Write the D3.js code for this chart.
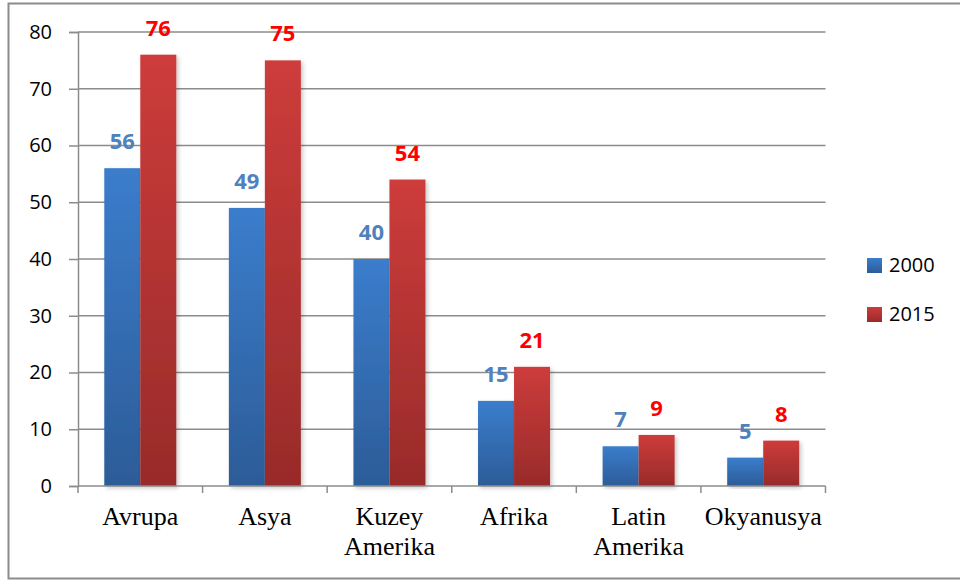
<!DOCTYPE html>
<html>
<head>
<meta charset="utf-8">
<script src="https://cdn.jsdelivr.net/npm/d3@7"></script>
<style>
  body { margin: 0; background: #fff; }
  svg { display: block; }
</style>
</head>
<body>
<div id="chart"></div>
<script>
var width = 960;
var height = 581;

// data
var regions = [["Avrupa"], ["Asya"], ["Kuzey", "Amerika"], ["Afrika"], ["Latin", "Amerika"], ["Okyanusya"]];
var series = ["2000", "2015"];
var values2000 = [56, 49, 40, 15, 7, 5];
var values2015 = [76, 75, 54, 21, 9, 8];
var yTicks = [0, 10, 20, 30, 40, 50, 60, 70, 80];

var margin = {left: 78, right: 135, top: 32, bottom: 95};

var svg = d3.select("#chart")
  .append("svg")
  .attr("width", width)
  .attr("height", height);

var defs = svg.append("defs");

function addGradient(id, top, bottom) {
  var g = defs.append("linearGradient")
    .attr("id", id)
    .attr("x1", 0).attr("y1", 0)
    .attr("x2", 0).attr("y2", 1);
  g.append("stop").attr("offset", "0%").attr("stop-color", top);
  g.append("stop").attr("offset", "100%").attr("stop-color", bottom);
}
addGradient("gradBlue", "#3b7dcc", "#2c5c98");
addGradient("gradRed", "#cd3c3b", "#982b2a");

var shadow = defs.append("filter").attr("id", "shadow")
  .attr("x", "-20%").attr("y", "-5%").attr("width", "150%").attr("height", "115%");
shadow.append("feDropShadow")
  .attr("dx", 2).attr("dy", 2).attr("stdDeviation", 2)
  .attr("flood-color", "#000").attr("flood-opacity", 0.22);

// outer frame
svg.append("path")
  .attr("d", "M965,3.5 H8.5 V578.5 H965")
  .attr("fill", "none")
  .attr("stroke", "#8c8c8c")
  .attr("stroke-width", 2);

var x0 = d3.scaleBand()
  .domain(d3.range(regions.length))
  .range([margin.left, width - margin.right + 0.5])
  .paddingInner(0)
  .paddingOuter(0);

var x1 = d3.scaleBand()
  .domain(series)
  .range([0, x0.bandwidth()])
  .paddingInner(0)
  .paddingOuter(0.73);

var y = d3.scaleLinear()
  .domain([0, 80])
  .range([height - margin.bottom, margin.top]);

// gridlines
svg.append("g")
  .selectAll("line")
  .data(yTicks.slice(1))
  .enter()
  .append("line")
  .attr("x1", margin.left)
  .attr("x2", x0.range()[1])
  .attr("y1", function(d){ return y(d); })
  .attr("y2", function(d){ return y(d); })
  .attr("stroke", "#8c8c8c")
  .attr("stroke-width", 1.5);

// y axis
var yAxis = svg.append("g")
  .attr("transform", "translate(" + margin.left + ",0)")
  .call(d3.axisLeft(y).tickValues(yTicks).tickSize(9).tickPadding(17));
yAxis.select(".domain").attr("stroke", "#8c8c8c").attr("stroke-width", 1.5);
yAxis.selectAll(".tick line").attr("stroke", "#8c8c8c").attr("stroke-width", 1.5);
yAxis.selectAll(".tick text")
  .attr("font-family", "'Open Sans', sans-serif")
  .attr("font-size", 20)
  .attr("fill", "#000");

// bars
var groups = svg.append("g")
  .selectAll("g")
  .data(regions.map(function(r, i){ return i; }))
  .enter()
  .append("g")
  .attr("transform", function(i){ return "translate(" + x0(i) + ",0)"; });

function pairs(i) {
  return [
    {s: "2000", v: values2000[i]},
    {s: "2015", v: values2015[i]}
  ];
}

groups.selectAll("rect")
  .data(pairs)
  .enter()
  .append("rect")
  .attr("x", function(d){ return x1(d.s); })
  .attr("y", function(d){ return y(d.v); })
  .attr("width", x1.bandwidth())
  .attr("height", function(d){ return y(0) - y(d.v); })
  .attr("fill", function(d){ return d.s == "2000" ? "url(#gradBlue)" : "url(#gradRed)"; })
  .attr("filter", "url(#shadow)");

groups.selectAll("text.val")
  .data(pairs)
  .enter()
  .append("text")
  .attr("class", "val")
  .attr("x", function(d){ return x1(d.s) + x1.bandwidth() / 2; })
  .attr("y", function(d){ return y(d.v) - 19; })
  .attr("text-anchor", "middle")
  .attr("font-family", "'Open Sans', sans-serif")
  .attr("font-weight", "bold")
  .attr("font-size", 22)
  .attr("fill", function(d){ return d.s == "2000" ? "#4f81bd" : "#ff0000"; })
  .text(function(d){ return d.v; });

// x axis
var xAxisY = y(0);
svg.append("line")
  .attr("x1", margin.left).attr("x2", x0.range()[1])
  .attr("y1", xAxisY).attr("y2", xAxisY)
  .attr("stroke", "#8c8c8c").attr("stroke-width", 1.5);

var xTickPos = d3.range(regions.length + 1).map(function(i){
  return i < regions.length ? x0(i) : x0.range()[1];
});
svg.append("g")
  .selectAll("line")
  .data(xTickPos)
  .enter()
  .append("line")
  .attr("x1", function(d){ return d; })
  .attr("x2", function(d){ return d; })
  .attr("y1", xAxisY)
  .attr("y2", xAxisY + 7)
  .attr("stroke", "#8c8c8c").attr("stroke-width", 1.5);

var cats = svg.append("g")
  .selectAll("text")
  .data(regions)
  .enter()
  .append("text")
  .attr("x", function(d, i){ return x0(i) + x0.bandwidth() / 2; })
  .attr("y", xAxisY + 39)
  .attr("text-anchor", "middle")
  .attr("font-family", "'Liberation Serif', serif")
  .attr("font-size", 26)
  .attr("fill", "#000");

cats.selectAll("tspan")
  .data(function(d){ return d; })
  .enter()
  .append("tspan")
  .attr("x", function(){ return d3.select(this.parentNode).attr("x"); })
  .attr("dy", function(d, i){ return i == 0 ? 0 : 30; })
  .text(function(d){ return d; });

// legend
var legend = svg.append("g")
  .selectAll("g")
  .data(series)
  .enter()
  .append("g")
  .attr("transform", function(d, i){ return "translate(867," + (258 + i * 49) + ")"; });

legend.append("rect")
  .attr("width", 15)
  .attr("height", 15)
  .attr("fill", function(d){ return d == "2000" ? "url(#gradBlue)" : "url(#gradRed)"; });

legend.append("text")
  .attr("x", 22)
  .attr("y", 14)
  .attr("font-family", "'Open Sans', sans-serif")
  .attr("font-size", 20)
  .attr("fill", "#000")
  .text(function(d){ return d; });
</script>
</body>
</html>
